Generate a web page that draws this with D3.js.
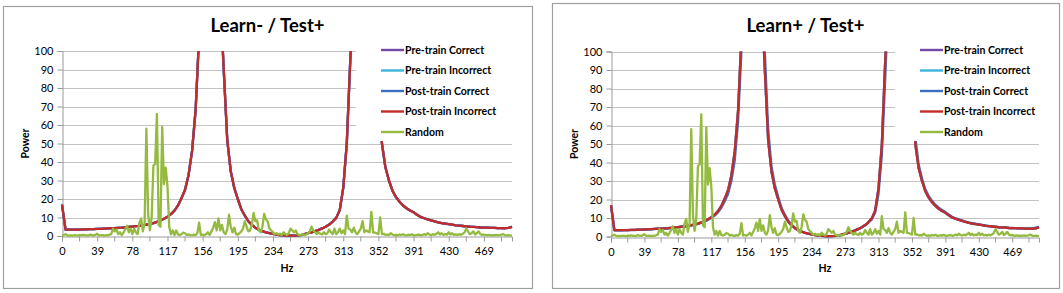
<!DOCTYPE html>
<html>
<head>
<meta charset="utf-8">
<script src="https://cdn.jsdelivr.net/npm/d3@7"></script>
<style>
  body { margin: 0; background: #fff; }
  svg { display: block; }
  text { font-family: Lato, "Open Sans", sans-serif; fill: #000; }
</style>
</head>
<body>
<svg id="chart" width="1063" height="293"></svg>
<script>
// --- Data ---
const seriesNames = ["Pre-train Correct", "Pre-train Incorrect", "Post-train Correct", "Post-train Incorrect", "Random"];
const seriesColors = ["#7448a8", "#3cb4dc", "#3a70c0", "#c42a2a", "#94ba3f"];
const hzTickLabels = ["0", "39", "78", "117", "156", "195", "234", "273", "313", "352", "391", "430", "469"];
const powerTicks = [0, 10, 20, 30, 40, 50, 60, 70, 80, 90, 100];
const titles = ["Learn- / Test+", "Learn+ / Test+"];

// spectra sampled every 1000/256 Hz (129 points, 0..500 Hz)
const learnMinusPower = [
  17, 3.4, 3.4, 3.4, 3.5, 3.5, 3.6, 3.6, 3.7, 3.7,
  3.8, 3.9, 4.0, 4.1, 4.2, 4.3, 4.4, 4.5, 4.7, 4.9,
  5.1, 5.3, 5.5, 5.8, 6.1, 6.5, 7.0, 7.6, 8.4, 9.3,
  10.4, 11.8, 13.7, 16.5, 20.5, 25, 33, 46, 68, 108,
  220, 450, 700, 600, 350, 160, 90, 52, 35, 26,
  20, 14.5, 11, 8, 6, 4.5, 3.4, 2.6, 2.0, 1.5,
  1.1, 0.8, 0.5, 0.3, 0.2, 0.15, 0.2, 0.3, 0.5, 1.0,
  1.5, 2.0, 2.6, 3.3, 4.1, 5.0, 6.2, 7.8, 9.8, 14,
  26, 50, 95, 200, 500, 800, 900, 700, 400, 200,
  90, 50, 37, 30, 24.5, 21, 18.5, 16.5, 15, 13.8,
  12.8, 11.5, 10.3, 9.6, 9.0, 8.4, 7.9, 7.4, 7.0, 6.7,
  6.4, 6.1, 5.8, 5.6, 5.4, 5.2, 5.0, 4.9, 4.8, 4.6,
  4.5, 4.5, 4.4, 4.4, 4.3, 4.3, 4.2, 4.4, 4.9
];
const learnPlusPower = learnMinusPower;
const learnPlusPostCorrect = [
  17, 3.3, 3.3, 3.3, 3.4, 3.4, 3.5, 3.5, 3.6, 3.6,
  3.7, 3.8, 3.9, 4.0, 4.1, 4.2, 4.3, 4.4, 4.6, 4.8,
  5.0, 5.2, 5.4, 5.6, 5.9, 6.3, 6.8, 7.4, 8.2, 9.0,
  10.0, 11.3, 13.0, 15.5, 19, 23, 30, 41, 62, 100,
  200, 420, 700, 650, 400, 180, 100, 58, 38, 28,
  21.5, 15.5, 11.8, 8.6, 6.4, 4.8, 3.6, 2.7, 2.1, 1.6,
  1.2, 0.9, 0.6, 0.35, 0.2, 0.15, 0.2, 0.3, 0.5, 0.9,
  1.4, 1.9, 2.5, 3.2, 4.0, 4.8, 6.0, 7.4, 9.2, 13,
  23, 44, 85, 180, 450, 800, 950, 750, 450, 220,
  100, 54, 39, 31.5, 25.5, 22, 19.3, 17.2, 15.6, 14.3,
  13.2, 11.9, 10.7, 9.9, 9.3, 8.7, 8.1, 7.6, 7.2, 6.9,
  6.6, 6.3, 6.0, 5.7, 5.5, 5.3, 5.1, 5.0, 4.9, 4.7,
  4.6, 4.5, 4.4, 4.4, 4.3, 4.3, 4.3, 4.8, 5.2
];

// random spectrum sampled every 1000/512 Hz (257 points)
const randomPower = [
  0.3, 0.5, 1.0, 0.4, 0.2, 0.3, 0.2, 0.4, 0.3, 0.2,
  0.5, 0.3, 0.6, 0.4, 0.3, 0.2, 0.8, 0.4, 0.3, 0.6,
  1.2, 0.4, 0.3, 0.5, 0.2, 0.4, 0.3, 0.7, 1.0, 4.0,
  2.5, 3.5, 1.0, 2.0, 0.5, 2.0, 3.6, 5.5, 2.0, 4.0,
  1.0, 4.0, 2.0, 1.0, 7.0, 9.5, 2.5, 7.0, 58, 12,
  3, 10, 38, 39, 66, 6, 5, 59, 28, 37,
  27, 5, 1, 3, 0.5, 3, 0.8, 0.5, 1.0, 1.8,
  1.5, 0.5, 0.9, 0.5, 0.3, 0.8, 0.4, 1.5, 7.2, 0.5,
  0.8, 0.4, 1.0, 2.0, 0.6, 2.5, 4.5, 7.5, 3.0, 9.5,
  3.0, 6.0, 2.0, 1.0, 3.5, 11.5, 5.0, 2.0, 4.5, 1.0,
  0.8, 1.5, 2.5, 4.0, 8.0, 5.0, 2.5, 3.0, 6.0, 12.5,
  8.0, 8.5, 3.0, 2.0, 5.0, 12.0, 9.0, 8.0, 4.0, 3.0,
  2.0, 1.0, 1.5, 0.8, 1.2, 0.5, 2.0, 1.0, 0.6, 1.5,
  4.0, 3.0, 2.0, 3.0, 1.0, 0.6, 0.4, 1.0, 0.5, 0.8,
  1.5, 2.5, 5.0, 3.0, 2.0, 1.0, 2.0, 1.2, 0.8, 2.0,
  1.0, 1.5, 3.5, 2.0, 1.0, 4.0, 1.0, 2.0, 4.0, 1.5,
  3.0, 1.0, 11.0, 4.0, 3.5, 2.0, 4.5, 2.0, 1.0, 2.5,
  4.0, 8.0, 2.0, 3.0, 2.5, 2.0, 13.0, 2.0, 1.8, 1.5,
  1.0, 10.0, 1.0, 1.2, 0.6, 0.8, 0.5, 1.5, 0.8, 0.4,
  0.6, 0.3, 0.8, 0.5, 1.0, 0.4, 0.3, 0.7, 0.4, 0.9,
  0.5, 0.3, 0.6, 0.8, 0.4, 0.5, 1.0, 0.6, 1.5, 0.8,
  0.5, 1.0, 0.6, 1.2, 2.0, 0.8, 1.5, 0.6, 1.0, 0.7,
  2.0, 0.8, 1.5, 0.6, 0.9, 0.5, 1.0, 0.6, 1.2, 2.0,
  4.0, 2.5, 1.0, 1.5, 2.5, 0.8, 1.5, 2.5, 1.0, 0.6,
  0.8, 0.5, 0.4, 0.6, 0.3, 0.5, 0.4, 0.6, 0.3, 0.5,
  0.7, 1.0, 0.4, 0.3, 0.5, 0.3, 0.2
];

const maxHz = 500;
const powerStep = 1000 / 256;
const randomStep = 1000 / 512;
const labelStep = 10 * powerStep;

// --- Layout ---
const panels = [
  {
    title: titles[0],
    box: { x: 3, y: 6, w: 529, h: 282 },
    plot: { left: 62, right: 512, top: 51, bottom: 236 },
    legend: { x: 356, y: 40, w: 170, h: 101 },
    series: [learnMinusPower, learnMinusPower, learnMinusPower, learnMinusPower, randomPower],
  },
  {
    title: titles[1],
    box: { x: 552, y: 3, w: 507, h: 285 },
    plot: { left: 611, right: 1039, top: 51.5, bottom: 236.5 },
    legend: { x: 895, y: 40, w: 150, h: 101 },
    series: [learnPlusPower, learnPlusPower, learnPlusPostCorrect, learnPlusPower, randomPower],
  },
];

const svg = d3.select("#chart");
const gridColor = "#c3c3c3";
const axisColor = "#9a9a9a";

panels.forEach((p, pi) => {
  const g = svg.append("g");

  g.append("rect")
    .attr("x", p.box.x + 0.5).attr("y", p.box.y + 0.5)
    .attr("width", p.box.w).attr("height", p.box.h)
    .attr("fill", "#fff").attr("stroke", "#a0a0a0").attr("stroke-width", 1.2);

  const x = d3.scaleLinear().domain([0, maxHz]).range([p.plot.left, p.plot.right]);
  const y = d3.scaleLinear().domain([0, 100]).range([p.plot.bottom, p.plot.top]);

  // gridlines
  g.append("g")
    .selectAll("line")
    .data(powerTicks.filter((d) => d > 0))
    .join("line")
    .attr("x1", p.plot.left).attr("x2", p.plot.right)
    .attr("y1", (d) => Math.round(y(d)) + 0.5).attr("y2", (d) => Math.round(y(d)) + 0.5)
    .attr("stroke", gridColor).attr("stroke-width", 1);

  // y axis
  const yAxis = g.append("g")
    .attr("transform", `translate(${p.plot.left + 0.5},0)`)
    .call(d3.axisLeft(y).tickValues(powerTicks).tickSize(5).tickPadding(4));
  yAxis.select(".domain").attr("stroke", axisColor);
  yAxis.selectAll(".tick line").attr("stroke", axisColor);
  yAxis.selectAll(".tick text").attr("font-size", 11).attr("font-family", "Lato");

  // x axis: labels every 10 spectrum bins, tick marks every 5
  const xAxis = g.append("g")
    .attr("transform", `translate(0,${Math.round(p.plot.bottom) + 0.5})`)
    .call(
      d3.axisBottom(x)
        .tickValues(hzTickLabels.map((_, i) => i * labelStep))
        .tickFormat((d, i) => hzTickLabels[i])
        .tickSize(5).tickPadding(6)
    );
  xAxis.select(".domain").attr("stroke", axisColor);
  xAxis.selectAll(".tick line").attr("stroke", axisColor);
  xAxis.selectAll(".tick text").attr("font-size", 11).attr("font-family", "Lato");
  g.append("g")
    .attr("transform", `translate(0,${Math.round(p.plot.bottom) + 0.5})`)
    .selectAll("line")
    .data(d3.range(1, 26, 2).map((k) => k * labelStep / 2))
    .join("line")
    .attr("x1", (d) => x(d)).attr("x2", (d) => x(d))
    .attr("y1", 0).attr("y2", 5)
    .attr("stroke", axisColor);

  // series lines, clipped to plot area
  const clipId = `clip-${pi}`;
  svg.append("clipPath").attr("id", clipId)
    .append("rect")
    .attr("x", p.plot.left - 2).attr("y", p.plot.top)
    .attr("width", p.plot.right - p.plot.left + 4)
    .attr("height", p.plot.bottom - p.plot.top + 2);

  const lines = g.append("g").attr("clip-path", `url(#${clipId})`);
  p.series.forEach((values, si) => {
    const step = values.length > 129 ? randomStep : powerStep;
    const line = d3.line()
      .x((d, i) => x(i * step))
      .y((d) => y(Math.min(d, 130)));
    lines.append("path")
      .datum(values)
      .attr("d", line)
      .attr("fill", "none")
      .attr("stroke", seriesColors[si])
      .attr("stroke-width", 2.3)
      .attr("stroke-linejoin", "round");
  });

  // legend (white box drawn over the plot)
  g.append("rect")
    .attr("x", p.legend.x).attr("y", p.legend.y)
    .attr("width", p.legend.w).attr("height", p.legend.h)
    .attr("fill", "#fff");
  const legendRow = d3.scaleLinear().domain([0, 4]).range([50, 132]);
  const sampleX = p.legend.x + 25;
  const item = g.append("g")
    .selectAll("g")
    .data(seriesNames)
    .join("g")
    .attr("transform", (d, i) => `translate(${sampleX},${legendRow(i)})`);
  item.append("line")
    .attr("x1", 0).attr("x2", 23)
    .attr("stroke", (d, i) => seriesColors[i])
    .attr("stroke-width", 2.4);
  item.append("text")
    .attr("x", 24).attr("dy", "0.35em")
    .attr("font-size", 10.5).attr("font-weight", 700)
    .text((d) => d);

  // titles
  g.append("text")
    .attr("x", p.box.x + p.box.w / 2).attr("y", 32)
    .attr("text-anchor", "middle")
    .attr("font-size", 18.5).attr("font-weight", 700)
    .text(p.title);
  g.append("text")
    .attr("transform", `translate(${p.plot.left - 33},${(p.plot.top + p.plot.bottom) / 2}) rotate(-90)`)
    .attr("text-anchor", "middle")
    .attr("font-size", 10.5).attr("font-weight", 700)
    .text("Power");
  g.append("text")
    .attr("x", (p.plot.left + p.plot.right) / 2).attr("y", 272)
    .attr("text-anchor", "middle")
    .attr("font-size", 10.5).attr("font-weight", 700)
    .text("Hz");
});
</script>
</body>
</html>
